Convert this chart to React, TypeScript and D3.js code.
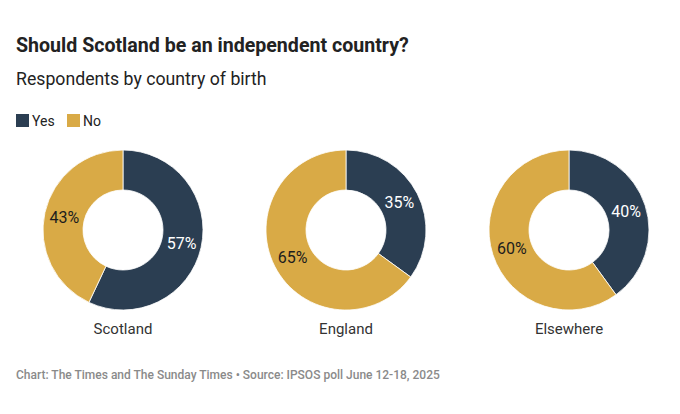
import { useEffect, useRef } from "react";
import * as d3 from "d3";

// Data
const countries = ["Scotland", "England", "Elsewhere"];
const answers = ["Yes", "No"];
const yesValues = [57, 35, 40];
const noValues = [43, 65, 60];
const answerColors = ["#2b3e52", "#d9aa46"];
const labelColors = ["#ffffff", "#1d1d1d"];

const title = "Should Scotland be an independent country?";
const subtitle = "Respondents by country of birth";
const footer = "Chart: The Times and The Sunday Times \u2022 Source: IPSOS poll June 12-18, 2025";

const WIDTH = 680;
const HEIGHT = 414;
const FONT = "Roboto, 'Noto Sans', sans-serif";

export default function App() {
  const svgRef = useRef<SVGSVGElement>(null);

  useEffect(() => {
    if (!svgRef.current) return;

    const svg = d3.select(svgRef.current);
    svg.selectAll("*").remove();

    // Header
    svg
      .append("text")
      .attr("x", 16)
      .attr("y", 52)
      .attr("font-size", 19.6)
      .attr("font-weight", "bold")
      .attr("fill", "#222")
      .text(title);

    svg
      .append("text")
      .attr("x", 16)
      .attr("y", 85)
      .attr("font-size", 17.7)
      .attr("fill", "#222")
      .text(subtitle);

    // Legend
    const legend = svg.append("g").attr("transform", "translate(16,114)");
    const legendX = [0, 51];
    answers.forEach((a, i) => {
      const item = legend.append("g").attr("transform", `translate(${legendX[i]},0)`);
      item.append("rect").attr("width", 13).attr("height", 13).attr("fill", answerColors[i]);
      item
        .append("text")
        .attr("x", 16)
        .attr("y", 11.5)
        .attr("font-size", 14)
        .attr("fill", "#222")
        .text(a);
    });

    // Donuts
    const x = d3
      .scalePoint<string>()
      .domain(countries)
      .range([123, 569]);

    const outer = 80;
    const inner = 40;
    const cy = 230;

    const pie = d3
      .pie<number>()
      .sort(null)
      .value((d) => d);

    const arc = d3.arc<d3.PieArcDatum<number>>().innerRadius(inner).outerRadius(outer);

    countries.forEach((c, ci) => {
      const g = svg.append("g").attr("transform", `translate(${x(c)},${cy})`);
      const arcs = pie([yesValues[ci], noValues[ci]]);

      g.selectAll("path")
        .data(arcs)
        .enter()
        .append("path")
        .attr("d", arc)
        .attr("fill", (_d, i) => answerColors[i])
        .attr("stroke", "#fff")
        .attr("stroke-width", 0.8);

      g.selectAll("text.value")
        .data(arcs)
        .enter()
        .append("text")
        .attr("class", "value")
        .attr("transform", (d) => `translate(${arc.centroid(d)})`)
        .attr("text-anchor", "middle")
        .attr("dy", "0.35em")
        .attr("font-size", 16)
        .attr("fill", (_d, i) => labelColors[i])
        .text((d) => `${d.data}%`);

      g.append("text")
        .attr("y", 104)
        .attr("text-anchor", "middle")
        .attr("font-size", 15)
        .attr("fill", "#333")
        .text(c);
    });

    // Footer
    svg
      .append("text")
      .attr("x", 16)
      .attr("y", 379)
      .attr("font-size", 12)
      .attr("font-weight", 500)
      .attr("fill", "#8a8a8a")
      .text(footer);
  }, []);

  return (
    <svg
      ref={svgRef}
      width={WIDTH}
      height={HEIGHT}
      style={{ display: "block", position: "absolute", left: 0, top: 0, fontFamily: FONT, background: "#fff" }}
    />
  );
}
